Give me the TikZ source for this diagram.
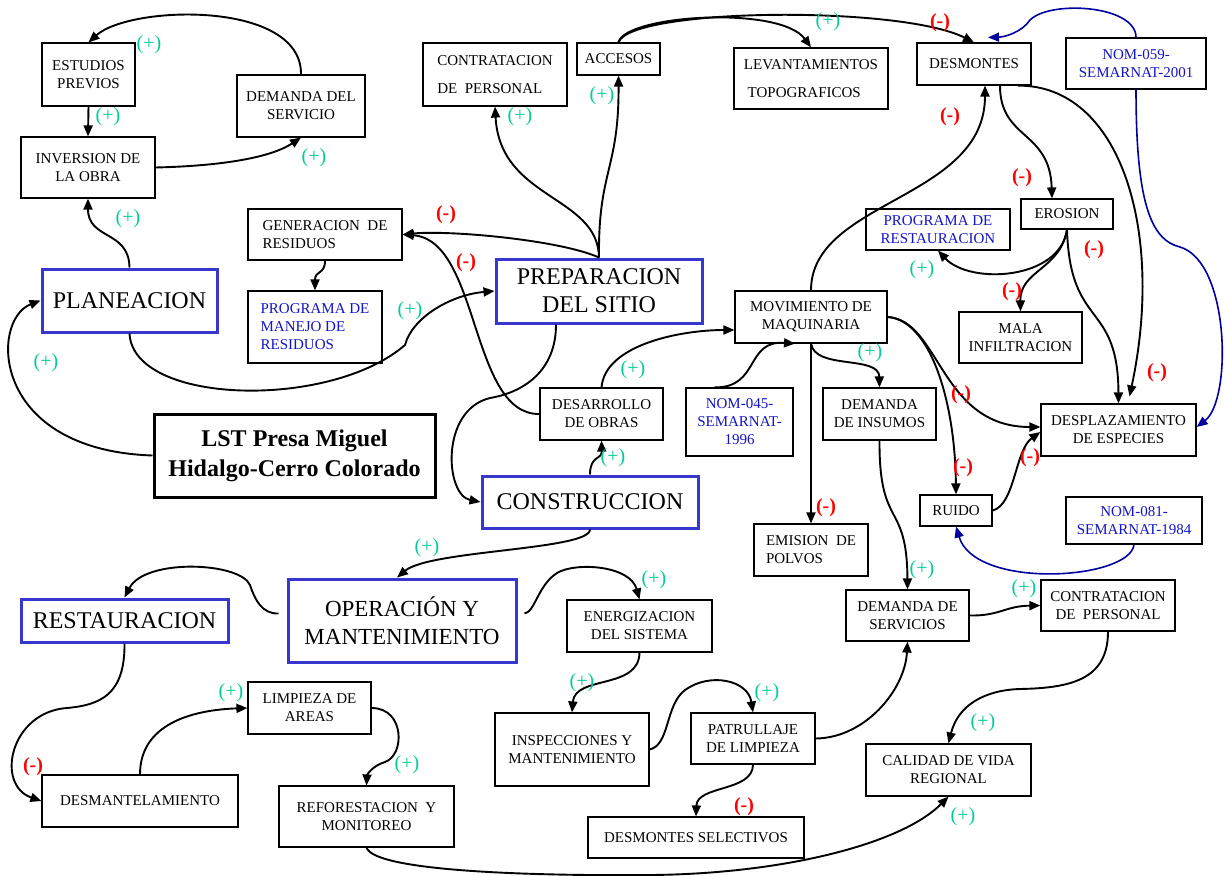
\documentclass[tikz,border=0pt]{standalone}
\usepackage{fontspec}
\setmainfont{Liberation Serif}
\usetikzlibrary{arrows.meta}

\definecolor{posgreen}{RGB}{0,204,153}
\definecolor{negred}{RGB}{255,0,0}
\definecolor{stageblue}{RGB}{55,55,205}
\definecolor{nomblue}{RGB}{20,20,200}
\definecolor{nomline}{RGB}{0,0,160}

\begin{document}
\begin{tikzpicture}[x=1pt,y=-1pt,
  box/.style={draw, line width=1.2pt, inner sep=1pt, align=center, font=\fontsize{15}{18}\selectfont},
  nombox/.style={box, text=nomblue},
  stage/.style={draw=stageblue, line width=3pt, inner sep=1pt, align=center, font=\fontsize{24}{28}\selectfont},
  plussign/.style={text=posgreen, inner sep=0pt, font=\fontsize{20}{20}\selectfont},
  minussign/.style={text=negred, inner sep=0pt, font=\fontsize{20}{20}\selectfont\bfseries},
  conn/.style={line width=1.9pt, -{Triangle[length=11pt,width=9pt]}},
  nomconn/.style={conn, draw=nomline, line width=1.6pt}]
\fill[white] (0,0) rectangle (1225,875);
\useasboundingbox (0,0) rectangle (1225,875);

% etapas
\node[draw, line width=3pt, minimum width=281pt, minimum height=83pt, align=center,
  font=\fontsize{24}{30}\selectfont\bfseries] (lst) at (294.5,455.5) {LST Presa Miguel\\Hidalgo-Cerro Colorado};
\node[stage, minimum width=175pt, minimum height=63pt] (planeacion) at (129.5,300.5) {PLANEACION};
\node[stage, minimum width=206pt, minimum height=64pt] (prep) at (599,291) {PREPARACION\\DEL SITIO};
\node[stage, minimum width=216pt, minimum height=52pt] (construccion) at (590,502) {CONSTRUCCION};
\node[stage, minimum width=228pt, minimum height=83pt, font=\fontsize{23}{28}\selectfont] (operacion) at (402,620.5) {OPERACIÓN Y\\MANTENIMIENTO};
\node[stage, minimum width=207pt, minimum height=43pt] (restauracion) at (124.5,620.5) {RESTAURACION};

% planeacion
\node[box, minimum width=93pt, minimum height=63pt] (estudios) at (88.5,74.5) {ESTUDIOS\\PREVIOS};
\node[box, minimum width=128pt, minimum height=62pt] (demserv) at (301,106) {DEMANDA DEL\\SERVICIO};
\node[box, minimum width=134pt, minimum height=61pt] (inversion) at (88,167.5) {INVERSION DE\\LA OBRA};

% preparacion del sitio
\node[box, minimum width=154pt, minimum height=51pt, align=left] (generacion) at (325,234.5) {GENERACION\ \ DE\\RESIDUOS};
\node[nombox, minimum width=134pt, minimum height=72pt, align=left] (progres) at (315,327) {PROGRAMA DE\\MANEJO DE\\RESIDUOS};
\node[box, minimum width=144pt, minimum height=63pt, align=left] (contrat1) at (495,74.5) {CONTRATACION\\[10pt]DE\ \ PERSONAL};
\node[box, minimum width=83pt, minimum height=32pt] (accesos) at (618.5,59) {ACCESOS};
\node[box, minimum width=154pt, minimum height=61pt, align=left] (levant) at (811,78.5) {LEVANTAMIENTOS\\[10pt]\ TOPOGRAFICOS};
\node[box, minimum width=114pt, minimum height=42pt] (desmontes) at (974,64) {DESMONTES};
\node[nombox, minimum width=140pt, minimum height=51pt] (nom059) at (1136,63.5) {NOM-059-\\SEMARNAT-2001};
\node[box, minimum width=92pt, minimum height=30pt] (erosion) at (1067,214) {EROSION};
\node[nombox, minimum width=144pt, minimum height=41pt] (progrest) at (938,229.5) {PROGRAMA DE\\RESTAURACION};
\node[box, minimum width=123pt, minimum height=51pt] (malainf) at (1020.5,337.5) {MALA\\INFILTRACION};
\node[box, minimum width=155pt, minimum height=52pt] (desplaz) at (1118.5,430) {DESPLAZAMIENTO\\DE ESPECIES};

% construccion
\node[box, minimum width=152pt, minimum height=52pt] (movim) at (811,317) {MOVIMIENTO DE\\MAQUINARIA};
\node[box, minimum width=113pt, minimum height=52pt] (deminsumos) at (879.5,414) {DEMANDA\\DE INSUMOS};
\node[box, minimum width=72pt, minimum height=31pt] (ruido) at (956,510.5) {RUIDO};
\node[nombox, minimum width=136pt, minimum height=47pt] (nom081) at (1134,520.5) {NOM-081-\\SEMARNAT-1984};
\node[box, minimum width=114pt, minimum height=52pt, align=left] (emision) at (811,550) {EMISION\ \ DE\\POLVOS};
\node[nombox, minimum width=107pt, minimum height=68pt] (nom045) at (739.5,422) {NOM-045-\\SEMARNAT-\\1996};
\node[box, minimum width=123pt, minimum height=52pt] (desarrollo) at (601.5,414) {DESARROLLO\\DE OBRAS};
\node[box, minimum width=123pt, minimum height=51pt] (demservicios) at (907.5,615.5) {DEMANDA DE\\SERVICIOS};
\node[box, minimum width=134pt, minimum height=51pt] (contrat2) at (1108,605.5) {CONTRATACION\\DE\ \ PERSONAL};
\node[box, minimum width=165pt, minimum height=52pt] (calidad) at (948.5,770) {CALIDAD DE VIDA\\REGIONAL};

% operacion y restauracion
\node[box, minimum width=145pt, minimum height=52pt] (energiz) at (639.5,626) {ENERGIZACION\\DEL SISTEMA};
\node[box, minimum width=154pt, minimum height=73pt] (inspec) at (572,749.5) {INSPECCIONES Y\\MANTENIMIENTO};
\node[box, minimum width=124pt, minimum height=51pt] (patrull) at (753,738.5) {PATRULLAJE\\DE LIMPIEZA};
\node[box, minimum width=216pt, minimum height=41pt] (desmsel) at (696,837.5) {DESMONTES SELECTIVOS};
\node[box, minimum width=123pt, minimum height=52pt] (limpieza) at (309.5,708) {LIMPIEZA DE\\AREAS};
\node[box, minimum width=196pt, minimum height=52pt] (desmantel) at (140,801) {DESMANTELAMIENTO};
\node[box, minimum width=175pt, minimum height=61pt] (reforest) at (366.5,816.5) {REFORESTACION\ \ Y\\MONITOREO};

% conectores
\draw[conn] (demserv.north) .. controls (302,0) and (130,5) .. (estudios.north);
\draw[conn] (estudios.south) -- (inversion.north);
\draw[conn] (inversion.east) .. controls (220,166) and (270,158) .. (demserv.south);
\draw[conn] (planeacion.north) .. controls (129,230) and (88,240) .. (inversion.south);
\draw[conn] (lst.west) .. controls (-10,450) and (-10,320) .. (planeacion.west);
\draw[conn] (planeacion.south) .. controls (133,405) and (330,410) .. (405,345)
  .. controls (412,318) and (450,295) .. (prep.west);

\draw[conn] (prep.north) .. controls (598,195) and (500,200) .. (contrat1.south);
\draw[conn] (prep.north) .. controls (598,170) and (619,170) .. (accesos.south);
\draw[conn] (prep.north) .. controls (560,240) and (450,230) .. (generacion.east);
\draw[conn] (generacion.south) .. controls (325,275) and (315,270) .. (progres.north);
\draw[conn] (accesos.north) .. controls (625,15) and (780,5) .. (levant.north);
\draw[conn] (accesos.north) .. controls (630,8) and (900,5) .. (desmontes.north);
\draw[nomconn] (nom059.north) .. controls (1136,5) and (1050,0) .. (1030,20)
  .. controls (1022,32) and (1005,37) .. ([xshift=14pt,yshift=5pt]desmontes.north);
\draw[nomconn] (nom059.south) .. controls (1136,200) and (1150,240) .. (1180,247)
  .. controls (1230,262) and (1232,400) .. ([yshift=3pt]desplaz.east);
\draw[conn] ([xshift=26pt]desmontes.south) .. controls (1000,140) and (1050,130) .. ([xshift=-15pt]erosion.north);
\draw[conn] ([xshift=44pt]desmontes.south) .. controls (1120,85) and (1165,230) .. ([xshift=11pt,yshift=7pt]desplaz.north);
\draw[conn] (erosion.south) .. controls (1060,280) and (970,285) .. (progrest.south);
\draw[conn] (erosion.south) .. controls (1060,270) and (1020,270) .. (malainf.north);
\draw[conn] (erosion.south) .. controls (1070,330) and (1118,300) .. (desplaz.north);

\draw[conn] ([xshift=-43pt]prep.south) .. controls (556,370) and (525,392) .. (490,398)
  .. controls (440,410) and (445,495) .. (construccion.west);
\draw[conn] (construccion.north) .. controls (590,455) and (602,460) .. (desarrollo.south);
\draw[conn] (desarrollo.west) .. controls (470,415) and (480,240) .. (generacion.east);
\draw[conn] (desarrollo.north) .. controls (605,345) and (680,330) .. ([yshift=-13pt]movim.west);
\draw[conn] ([xshift=-25pt]nom045.north) .. controls (760,388) and (745,340) .. ([xshift=-16pt]movim.south);
\draw[conn] (movim.north) .. controls (811,200) and (985,200) .. ([xshift=11pt]desmontes.south);
\draw[conn] (movim.east) .. controls (940,320) and (940,427) .. ([yshift=3pt]desplaz.west);
\draw[conn] (movim.east) .. controls (930,320) and (955,400) .. (ruido.north);
\draw[conn] (ruido.east) .. controls (1015,505) and (1015,450) .. ([yshift=-2pt]desplaz.west);
\draw[nomconn] (nom081.south) .. controls (1130,580) and (975,590) .. (ruido.south);
\draw[conn] (movim.south) .. controls (815,370) and (879,355) .. (deminsumos.north);
\draw[conn] (movim.south) -- (emision.north);
\draw[conn] (deminsumos.south) .. controls (879,530) and (907,500) .. (demservicios.north);
\draw[conn] (demservicios.east) .. controls (1000,616) and (1005,606) .. (contrat2.west);
\draw[conn] (contrat2.south) .. controls (1108,680) and (1070,688) .. (1020,689)
  .. controls (985,690) and (958,705) .. (calidad.north);
\draw[conn] (construccion.south) .. controls (590,550) and (430,550) .. ([xshift=-5pt]operacion.north);

\draw[conn] ([xshift=7pt,yshift=7pt]operacion.east) .. controls (535,612) and (538,585) .. (557,573)
  .. controls (575,562) and (630,565) .. (energiz.north);
\draw[conn] (energiz.south) .. controls (639,690) and (575,675) .. (inspec.north);
\draw[conn] (inspec.east) .. controls (670,745) and (665,705) .. (685,690)
  .. controls (710,672) and (748,680) .. (patrull.north);
\draw[conn] (patrull.south) .. controls (753,792) and (697,785) .. (desmsel.north);
\draw[conn] (patrull.east) .. controls (865,738) and (905,690) .. (demservicios.south);
\draw[conn] ([xshift=-8pt,yshift=7pt]operacion.west) .. controls (262,614) and (255,600) .. (250,585)
  .. controls (240,562) and (145,558) .. (restauracion.north);
\draw[conn] (restauracion.south) .. controls (125,695) and (100,705) .. (67,708)
  .. controls (10,712) and (-5,785) .. (desmantel.west);
\draw[conn] (desmantel.north) .. controls (140,725) and (190,710) .. (limpieza.west);
\draw[conn] (limpieza.east) .. controls (405,708) and (405,755) .. (385,762)
  .. controls (372,766) and (367,775) .. (reforest.north);
\draw[conn] (reforest.south) .. controls (375,872) and (540,876) .. (650,875)
  .. controls (780,874) and (900,845) .. (calidad.south);

% signos
\node[plussign] (p1) at (149,45) {(+)};
\node[plussign] (p2) at (108,117) {(+)};
\node[plussign] (p3) at (314,158) {(+)};
\node[plussign] (p4) at (128,219) {(+)};
\node[plussign] (p5) at (520,117) {(+)};
\node[plussign] (p6) at (602,96) {(+)};
\node[plussign] (p7) at (828,22) {(+)};
\node[plussign] (p8) at (410,311) {(+)};
\node[plussign] (p9) at (46,363) {(+)};
\node[plussign] (p10) at (633,370) {(+)};
\node[plussign] (p11) at (613,458) {(+)};
\node[plussign] (p12) at (870,353) {(+)};
\node[plussign] (p13) at (922,270) {(+)};
\node[plussign] (p14) at (427,548) {(+)};
\node[plussign] (p15) at (922,570) {(+)};
\node[plussign] (p16) at (1024,589) {(+)};
\node[plussign] (p17) at (983,723) {(+)};
\node[plussign] (p18) at (963,817) {(+)};
\node[plussign] (p19) at (654,580) {(+)};
\node[plussign] (p20) at (582,683) {(+)};
\node[plussign] (p21) at (767,693) {(+)};
\node[plussign] (p22) at (231,693) {(+)};
\node[plussign] (p23) at (407,765) {(+)};
\node[minussign] (m1) at (446,215) {(-)};
\node[minussign] (m2) at (466,263) {(-)};
\node[minussign] (m3) at (940,23) {(-)};
\node[minussign] (m4) at (950,117) {(-)};
\node[minussign] (m5) at (1022,178) {(-)};
\node[minussign] (m6) at (1094,250) {(-)};
\node[minussign] (m7) at (1012,292) {(-)};
\node[minussign] (m8) at (1157,373) {(-)};
\node[minussign] (m9) at (961,395) {(-)};
\node[minussign] (m10) at (963,468) {(-)};
\node[minussign] (m11) at (1030,458) {(-)};
\node[minussign] (m12) at (826,508) {(-)};
\node[minussign] (m13) at (33,767) {(-)};
\node[minussign] (m14) at (744,807) {(-)};
\end{tikzpicture}
\end{document}
